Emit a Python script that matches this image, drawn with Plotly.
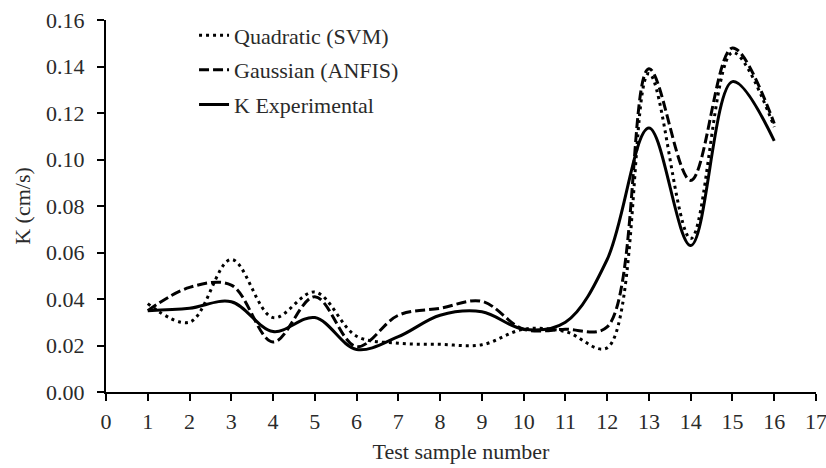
import plotly.graph_objects as go

samples = list(range(1, 17))
quadratic_svm = [0.038, 0.030, 0.057, 0.032, 0.043, 0.024, 0.021, 0.0205, 0.0203, 0.027, 0.026, 0.019, 0.137, 0.066, 0.146, 0.114]
gaussian_anfis = [0.035, 0.045, 0.046, 0.0215, 0.041, 0.0195, 0.033, 0.036, 0.039, 0.027, 0.027, 0.028, 0.139, 0.091, 0.148, 0.1155]
k_experimental = [0.035, 0.036, 0.0388, 0.026, 0.032, 0.0183, 0.0238, 0.033, 0.0345, 0.027, 0.030, 0.057, 0.1135, 0.063, 0.1335, 0.108]

x_ticks = list(range(0, 18))
y_ticks = [0.00, 0.02, 0.04, 0.06, 0.08, 0.10, 0.12, 0.14, 0.16]

FONT = "Liberation Serif"
INK = "#2a2a2a"
FS = 22

fig = go.Figure()
series = [
    ("Quadratic (SVM)", quadratic_svm, "3px,4px"),
    ("Gaussian (ANFIS)", gaussian_anfis, "10px,4px"),
    ("K Experimental", k_experimental, "solid"),
]
for i, (name, vals, dash) in enumerate(series):
    fig.add_trace(go.Scatter(
        x=samples, y=vals, name=name, mode="lines",
        line=dict(color="black", width=3, dash=dash, shape="spline", smoothing=1.0),
        legendgroup=f"g{i}",
    ))

fig.update_layout(
    width=826, height=468,
    margin=dict(l=106, r=10, t=20, b=76),
    paper_bgcolor="white", plot_bgcolor="white",
    font=dict(family=FONT, size=FS, color=INK),
    showlegend=True,
    legend=dict(
        x=0.124, y=1.015, xanchor="left", yanchor="top",
        bgcolor="rgba(0,0,0,0)", font=dict(family=FONT, size=FS, color=INK),
        tracegroupgap=3, traceorder="grouped",
    ),
    xaxis=dict(
        range=[0, 17], tickvals=x_ticks, ticktext=[str(t) for t in x_ticks],
        showgrid=False, zeroline=False, showline=True, linecolor="black", linewidth=2,
        ticks="outside", ticklen=7, tickwidth=2, tickcolor="black", ticklabelstandoff=2,
        tickfont=dict(family=FONT, size=FS, color=INK), automargin=False,
        ticklabeloverflow="allow",
        title=dict(text="Test sample number", font=dict(family=FONT, size=FS, color=INK), standoff=10),
    ),
    yaxis=dict(
        range=[0, 0.16], tickvals=y_ticks, ticktext=[f"{t:.2f}" for t in y_ticks],
        showgrid=False, zeroline=False, showline=True, linecolor="black", linewidth=2,
        ticks="outside", ticklen=7, tickwidth=2, tickcolor="black", ticklabelstandoff=8,
        tickfont=dict(family=FONT, size=FS, color=INK), automargin=False,
        ticklabeloverflow="allow",
        title=dict(text="K (cm/s)", font=dict(family=FONT, size=FS, color=INK), standoff=9),
    ),
)

fig.write_html("out.html")
